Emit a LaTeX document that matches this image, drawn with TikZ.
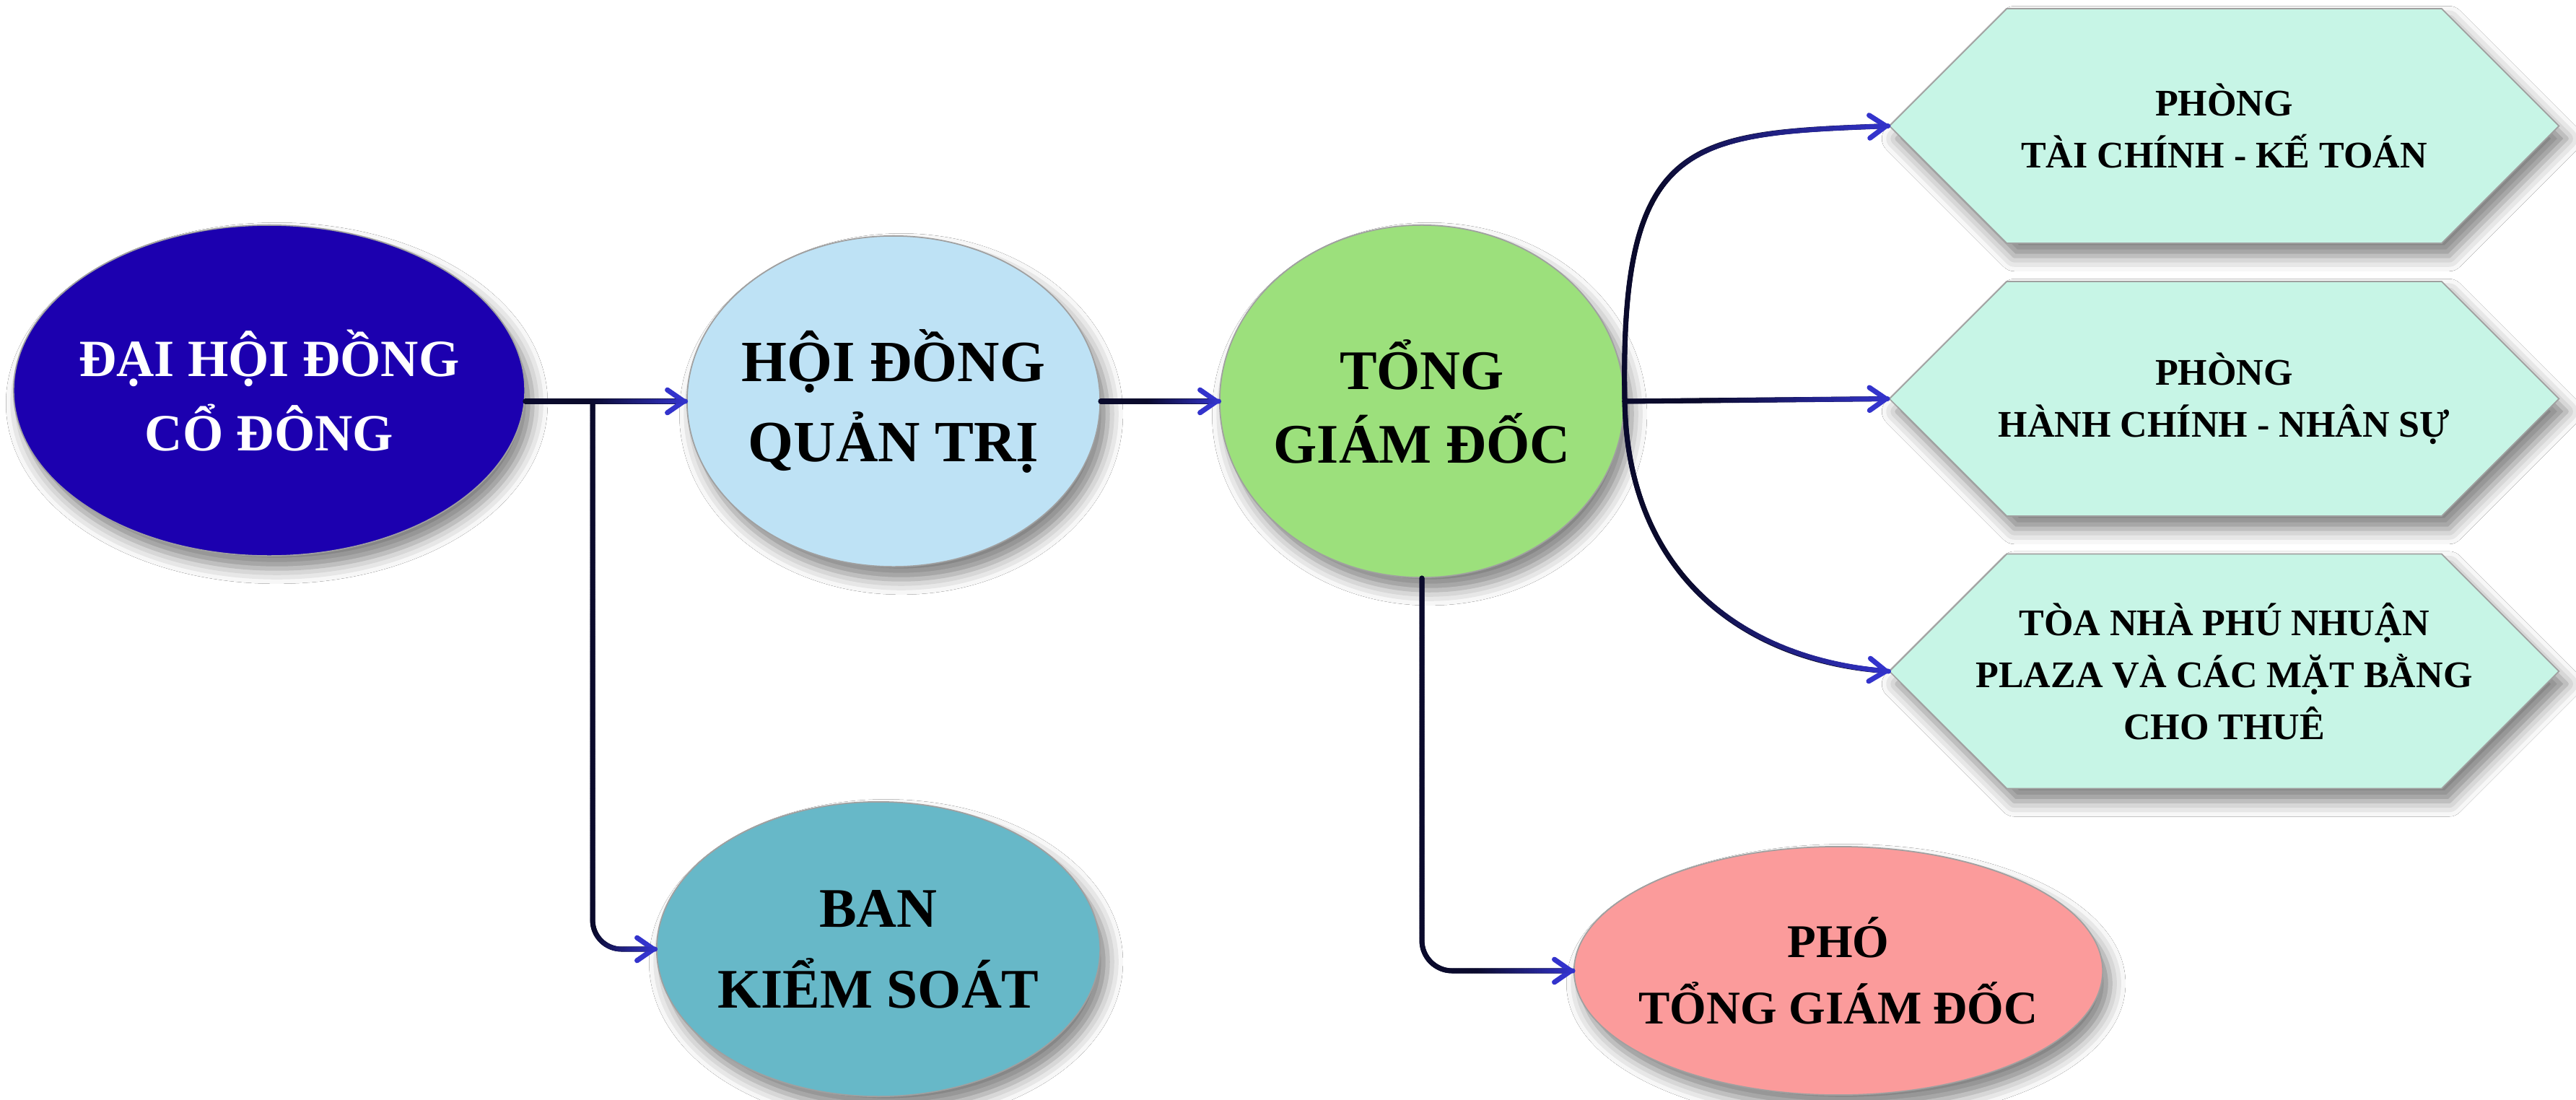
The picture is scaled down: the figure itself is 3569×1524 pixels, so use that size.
\documentclass[tikz,border=0pt]{standalone}
\usepackage{fontspec}
\setmainfont{Liberation Serif}
\usetikzlibrary{shapes.geometric,shapes.symbols,arrows.meta,shadows.blur,decorations.markings}

\definecolor{colA}{HTML}{1C00AF}
\definecolor{colB}{HTML}{BEE2F5}
\definecolor{colC}{HTML}{9CE07C}
\definecolor{colD}{HTML}{67B8C8}
\definecolor{colE}{HTML}{FB9B9B}
\definecolor{colH}{HTML}{C7F5E6}
\definecolor{outline}{HTML}{A0A0A0}
\definecolor{linedark}{HTML}{0A0A2C}
\definecolor{lineblue}{HTML}{3333CC}

\tikzset{
  box/.style={draw=outline, line width=0.5pt,
    blur shadow={shadow xshift=3pt, shadow yshift=-5pt,
                 shadow blur radius=6pt, shadow opacity=50}},
  oval/.style={box, ellipse, inner xsep=-2cm, inner ysep=-0.3cm, align=center},
  hexa/.style={box, shape=signal, signal to=west and east,
    signal pointer angle=90, minimum width=9.27cm, minimum height=3.25cm,
    inner xsep=-0.8cm, inner ysep=0pt, fill=colH, align=center,
    font=\bfseries\fontsize{14.8}{20.5}\selectfont},
  conn/.style={draw=linedark, line width=2pt, line cap=round,
    -{Straight Barb[length=6.5pt,width=9pt,color=lineblue,round]}},
  % stroke that turns from dark navy to blue after fraction #1 of its length
  gradstroke/.style={postaction={decorate,decoration={markings,
    mark=between positions 0 and 1 step 0.5pt with {%
      \pgfmathtruncatemacro\gmix{max(0,min(100,100*(\pgfkeysvalueof{/pgf/decoration/mark info/distance from start}/\pgfdecoratedpathlength-#1)/(1-#1)))}%
      \fill[lineblue!\gmix!linedark] (0,0) circle[radius=1pt];
    }}}}
}

\begin{document}
\begin{tikzpicture}[x=0.01cm, y=-0.01cm]
  \fill[white] (0,0) rectangle (3569,1524);
  \useasboundingbox (0,0) rectangle (3569,1524);

  % organisation units
  \node[oval, fill=colA, text=white, minimum width=7.08cm, minimum height=4.58cm,
        font=\bfseries\fontsize{20.6}{29.3}\selectfont]
        (dhd) at (373,541) {ĐẠI HỘI ĐỒNG\\CỔ ĐÔNG};
  \node[oval, fill=colB, minimum width=5.72cm, minimum height=4.58cm,
        font=\bfseries\fontsize{23}{31.6}\selectfont]
        (hdqt) at (1238,556) {HỘI ĐỒNG\\QUẢN TRỊ};
  \node[oval, fill=colC, minimum width=5.60cm, minimum height=4.88cm,
        font=\bfseries\fontsize{22}{29}\selectfont]
        (tgd) at (1970,556) {TỔNG\\GIÁM ĐỐC};
  \node[oval, fill=colD, minimum width=6.14cm, minimum height=4.08cm,
        font=\bfseries\fontsize{22}{31.9}\selectfont]
        (bks) at (1217,1315) {BAN\\KIỂM SOÁT};
  \node[oval, fill=colE, minimum width=7.32cm, minimum height=3.44cm,
        font=\bfseries\fontsize{18.5}{26.2}\selectfont]
        (ptgd) at (2547,1345) {PHÓ\\TỔNG GIÁM ĐỐC};

  \node[hexa] (tckt) at (3081.5,174.5) {PHÒNG\\TÀI CHÍNH - KẾ TOÁN};
  \node[hexa] (hcns) at (3081.5,552.5) {PHÒNG\\HÀNH CHÍNH - NHÂN SỰ};
  \node[hexa] (plaza) at (3081.5,930) {TÒA NHÀ PHÚ NHUẬN\\PLAZA VÀ CÁC MẶT BẰNG\\CHO THUÊ};

  % connectors
  \draw[conn, gradstroke=0.9] (dhd.east |- hdqt.west) -- ++(93,0)
        [rounded corners=0.4cm] |- (bks.west);
  \draw[conn, gradstroke=0.4] (dhd.east |- hdqt.west) -- (hdqt.west);
  \draw[conn, gradstroke=0.4] (hdqt.east) -- (tgd.west);
  \draw[conn, gradstroke=0.82, rounded corners=0.42cm] (tgd.south) |- (ptgd.west);
  \draw[conn, gradstroke=0.45] (tgd.east) .. controls (2244,190) and (2340,185) .. (tckt.west);
  \draw[conn, gradstroke=0.3] (tgd.east) -- (hcns.west);
  \draw[conn, gradstroke=0.45] (tgd.east) .. controls (2255,800) and (2420,915) .. (plaza.west);
\end{tikzpicture}
\end{document}
